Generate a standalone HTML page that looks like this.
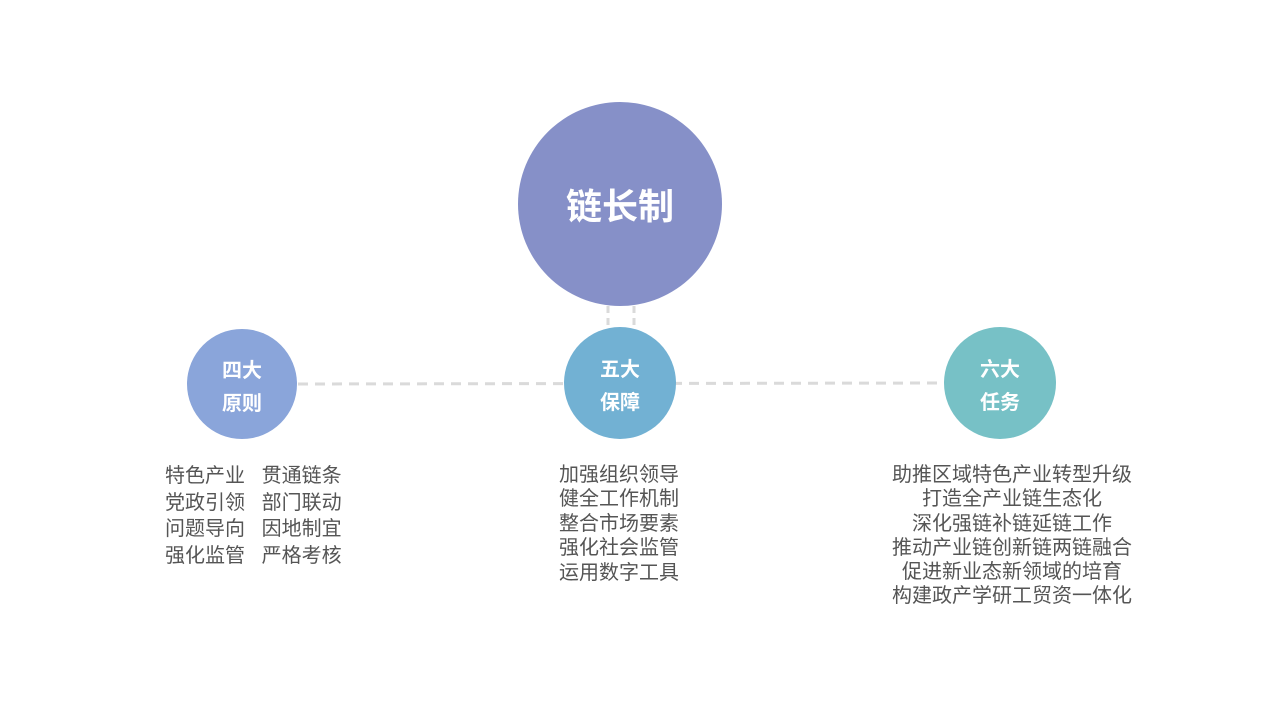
<!DOCTYPE html>
<html><head><meta charset="utf-8"><style>
body{margin:0;width:1267px;height:713px;background:#fff;position:relative;overflow:hidden;font-family:"Liberation Sans","Noto Sans CJK SC",sans-serif;}
.c{position:absolute;border-radius:50%;color:#fff;font-weight:bold;display:flex;align-items:center;justify-content:center;text-align:center;}
.c span{position:relative;top:4px;}
.t{position:absolute;color:#555;font-size:20px;white-space:pre;}
</style></head><body>
<svg width="1267" height="713" style="position:absolute;left:0;top:0">
<line x1="298" y1="384" x2="944" y2="383" stroke="#dadada" stroke-width="3" stroke-dasharray="10,7"/>
<line x1="608" y1="306" x2="608" y2="328" stroke="#dadada" stroke-width="3" stroke-dasharray="7,5"/>
<line x1="634" y1="306" x2="634" y2="328" stroke="#dadada" stroke-width="3" stroke-dasharray="7,5"/>
</svg>
<div class="c" style="left:518px;top:102px;width:204px;height:204px;background:#8690c8;font-size:36px;">链长制</div>
<div class="c" style="left:187px;top:329px;width:110px;height:110px;background:#8aa5da;font-size:20px;line-height:33px;"><span>四大<br>原则</span></div>
<div class="c" style="left:564px;top:327px;width:112px;height:112px;background:#72b1d3;font-size:20px;line-height:33px;"><span>五大<br>保障</span></div>
<div class="c" style="left:944px;top:327px;width:112px;height:112px;background:#77c1c6;font-size:20px;line-height:33px;"><span>六大<br>任务</span></div>
<div class="t" style="left:165px;top:463px;line-height:26.7px;">特色产业   贯通链条
党政引领   部门联动
问题导向   因地制宜
强化监管   严格考核</div>
<div class="t" style="left:559px;top:463px;line-height:24.4px;">加强组织领导
健全工作机制
整合市场要素
强化社会监管
运用数字工具</div>
<div class="t" style="left:860px;width:304px;top:463px;line-height:24.3px;text-align:center;">助推区域特色产业转型升级
打造全产业链生态化
深化强链补链延链工作
推动产业链创新链两链融合
促进新业态新领域的培育
构建政产学研工贸资一体化</div>
</body></html>
